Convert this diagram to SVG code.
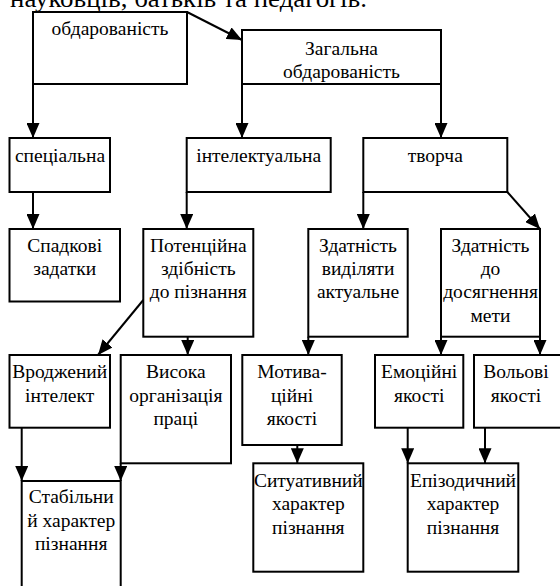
<svg xmlns="http://www.w3.org/2000/svg" width="560" height="586" viewBox="0 0 560 586">
<style>
.b{fill:#fff;stroke:#000;stroke-width:2}
.t{font-family:'Liberation Serif';font-size:19.5px;fill:#000;text-anchor:middle}
.c{stroke:#000;stroke-width:2;fill:none;marker-end:url(#ah)}
</style>
<defs>
<marker id="ah" markerUnits="userSpaceOnUse" markerWidth="15" markerHeight="13" refX="15" refY="6.5" orient="auto">
<path d="M0,0 L15,6.5 L0,13 z" fill="#000"/>
</marker>
</defs>
<rect width="560" height="586" fill="#fff"/>
<text x="10" y="7" font-family="Liberation Serif" font-size="26" textLength="357" lengthAdjust="spacingAndGlyphs">науковців, батьків та педагогів.</text>
<g id="n1"><rect class="b" x="33" y="12" width="154" height="72"/><text class="t" x="110" y="35">обдарованість</text></g>
<g id="n2"><rect class="b" x="242" y="30" width="199" height="54"/><text class="t" x="341.5" y="55">Загальна</text><text class="t" x="341.5" y="78">обдарованість</text></g>
<g id="n3"><rect class="b" x="9.5" y="138" width="100.5" height="54"/><text class="t" x="60" y="161.5">спеціальна</text></g>
<g id="n4"><rect class="b" x="186.7" y="138" width="144" height="54"/><text class="t" x="258.7" y="161.5">інтелектуальна</text></g>
<g id="n5"><rect class="b" x="363.3" y="138" width="144" height="54"/><text class="t" x="435.3" y="161.5">творча</text></g>
<g id="n6"><rect class="b" x="9.5" y="229" width="110.5" height="72.5"/><text class="t" x="64.7" y="251.7">Спадкові</text><text class="t" x="64.7" y="275">задатки</text></g>
<g id="n7"><rect class="b" x="143.3" y="229" width="110" height="107.7"/><text class="t" x="198.3" y="251.7">Потенційна</text><text class="t" x="198.3" y="275">здібність</text><text class="t" x="198.3" y="298.3">до пізнання</text></g>
<g id="n8"><rect class="b" x="308.3" y="229" width="99.4" height="107.7"/><text class="t" x="358" y="251.7">Здатність</text><text class="t" x="358" y="275">виділяти</text><text class="t" x="358" y="298.3">актуальне</text></g>
<g id="n9"><rect class="b" x="441" y="229" width="99" height="107.7"/><text class="t" x="490.5" y="251.7">Здатність</text><text class="t" x="490.5" y="275">до</text><text class="t" x="490.5" y="298.3">досягнення</text><text class="t" x="490.5" y="321.6">мети</text></g>
<g id="n10"><rect class="b" x="9.5" y="355" width="100.5" height="72.7"/><text class="t" x="59.7" y="378.3">Вроджений</text><text class="t" x="59.7" y="401.7">інтелект</text></g>
<g id="n11"><rect class="b" x="120.7" y="355" width="110.3" height="108.3"/><text class="t" x="175.8" y="378.3">Висока</text><text class="t" x="175.8" y="401.7">організація</text><text class="t" x="175.8" y="425">праці</text></g>
<g id="n12"><rect class="b" x="242.3" y="355" width="99.4" height="90"/><text class="t" x="292" y="378.3">Мотива-</text><text class="t" x="292" y="401.7">ційні</text><text class="t" x="292" y="425">якості</text></g>
<g id="n13"><rect class="b" x="375" y="355" width="88.3" height="72.7"/><text class="t" x="419.2" y="378.3">Емоційні</text><text class="t" x="419.2" y="401.7">якості</text></g>
<g id="n14"><rect class="b" x="474" y="355" width="88" height="72.7"/><text class="t" x="516" y="378.3">Вольові</text><text class="t" x="516" y="401.7">якості</text></g>
<g id="n15"><rect class="b" x="21.7" y="481" width="99" height="120"/><text class="t" x="71.2" y="503.3">Стабільни</text><text class="t" x="71.2" y="526.7">й характер</text><text class="t" x="71.2" y="550">пізнання</text></g>
<g id="n16"><rect class="b" x="253.3" y="463.3" width="110" height="108.4"/><text class="t" x="308.3" y="487">Ситуативний</text><text class="t" x="308.3" y="510.3">характер</text><text class="t" x="308.3" y="533.6">пізнання</text></g>
<g id="n17"><rect class="b" x="407.7" y="463.3" width="110.6" height="108.4"/><text class="t" x="463" y="487">Епізодичний</text><text class="t" x="463" y="510.3">характер</text><text class="t" x="463" y="533.6">пізнання</text></g>
<g id="connectors">
<path class="c" d="M187,12 L242,40"/>
<path class="c" d="M33,84 L33,138"/>
<path class="c" d="M242,84 L242,138"/>
<path class="c" d="M441,84 L441,138"/>
<path class="c" d="M33,192 L33,229"/>
<path class="c" d="M186.7,192 L186.7,229"/>
<path class="c" d="M363.3,192 L363.3,229"/>
<path class="c" d="M507.3,192 L540,229"/>
<path class="c" d="M143.3,300 L98,355"/>
<path class="c" d="M187.7,336.7 L187.7,355"/>
<path class="c" d="M308.3,336.7 L308.3,355"/>
<path class="c" d="M441,336.7 L441,355"/>
<path class="c" d="M540,336.7 L540,355"/>
<path class="c" d="M21.7,427.7 L21.7,481"/>
<path class="c" d="M120.7,463.3 L120.7,481"/>
<path class="c" d="M297.3,445 L297.3,463.3"/>
<path class="c" d="M407.7,427.7 L407.7,463.3"/>
<path class="c" d="M485,427.7 L485,463.3"/>
</g>
</svg>
